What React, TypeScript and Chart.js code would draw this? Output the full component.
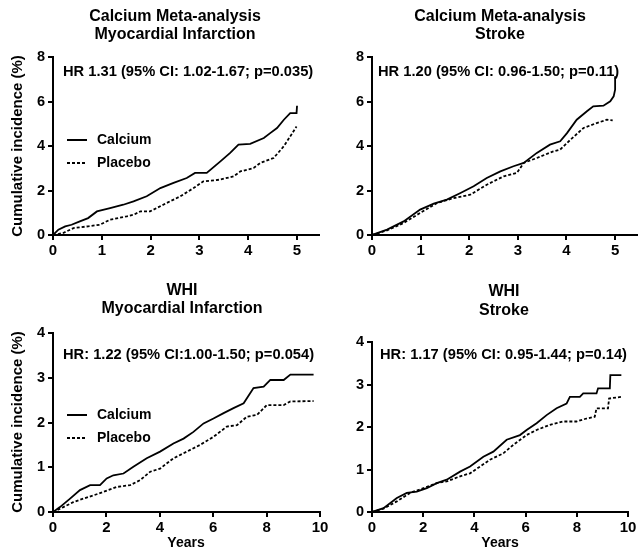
import React, { useEffect, useRef } from 'react';
import { Chart, registerables } from 'chart.js';

Chart.register(...registerables);

// ---------- data ----------
const metaYearTicks = [0, 1, 2, 3, 4, 5];
const whiYearTicks = [0, 2, 4, 6, 8, 10];
const metaIncidenceTicks = [0, 2, 4, 6, 8];
const whiIncidenceTicks = [0, 1, 2, 3, 4];

const metaMiCalcium: [number, number][] = [
  [0, 0], [0.11, 0.24], [0.25, 0.39], [0.38, 0.46], [0.55, 0.61], [0.72, 0.76], [0.9, 1.06], [0.96, 1.1],
  [1.17, 1.21], [1.44, 1.36], [1.65, 1.51], [1.92, 1.74], [2.2, 2.11], [2.47, 2.34], [2.74, 2.56],
  [2.91, 2.79], [3.15, 2.79], [3.43, 3.31], [3.63, 3.69], [3.8, 4.06], [4.04, 4.1], [4.32, 4.36],
  [4.45, 4.58], [4.59, 4.81], [4.73, 5.18], [4.86, 5.48], [4.99, 5.48], [5.0, 5.81],
];
const metaMiPlacebo: [number, number][] = [
  [0, 0], [0.21, 0.09], [0.42, 0.31], [0.72, 0.39], [0.96, 0.46], [1.17, 0.69], [1.51, 0.84], [1.65, 0.91],
  [1.79, 1.06], [1.99, 1.06], [2.33, 1.44], [2.61, 1.74], [2.88, 2.11], [3.08, 2.41], [3.43, 2.49],
  [3.7, 2.64], [3.84, 2.86], [4.11, 3.01], [4.25, 3.24], [4.52, 3.46], [4.73, 3.99], [4.86, 4.43], [4.99, 4.88],
];
const metaStrokeCalcium: [number, number][] = [
  [0, 0], [0.31, 0.24], [0.65, 0.61], [0.99, 1.14], [1.27, 1.41], [1.54, 1.59], [1.82, 1.89], [2.09, 2.19],
  [2.36, 2.56], [2.64, 2.86], [2.91, 3.09], [3.12, 3.24], [3.39, 3.69], [3.66, 4.06], [3.87, 4.21],
  [4.01, 4.58], [4.21, 5.18], [4.42, 5.56], [4.55, 5.78], [4.76, 5.81], [4.9, 6.01], [4.97, 6.23],
  [5.0, 6.53], [5.0, 7.13],
];
const metaStrokePlacebo: [number, number][] = [
  [0, 0], [0.31, 0.21], [0.65, 0.54], [0.99, 0.99], [1.34, 1.44], [1.68, 1.66], [2.02, 1.81], [2.36, 2.26],
  [2.71, 2.64], [2.98, 2.79], [3.12, 3.24], [3.39, 3.46], [3.73, 3.76], [3.87, 3.84], [4.08, 4.28],
  [4.35, 4.81], [4.62, 5.03], [4.83, 5.18], [4.95, 5.15],
];
const whiMiCalcium: [number, number][] = [
  [0, 0], [0.26, 0.11], [0.64, 0.3], [1.01, 0.49], [1.39, 0.6], [1.76, 0.6], [2.01, 0.75], [2.26, 0.82],
  [2.64, 0.86], [3.01, 1.01], [3.51, 1.2], [4.01, 1.35], [4.51, 1.53], [4.89, 1.64], [5.26, 1.79],
  [5.64, 1.98], [6.01, 2.09], [6.39, 2.21], [6.76, 2.32], [7.14, 2.43], [7.51, 2.77], [7.89, 2.8],
  [8.14, 2.95], [8.64, 2.95], [8.89, 3.07], [9.76, 3.07],
];
const whiMiPlacebo: [number, number][] = [
  [0, 0], [0.39, 0.11], [0.76, 0.22], [1.14, 0.3], [1.51, 0.37], [1.89, 0.45], [2.39, 0.56], [2.89, 0.6],
  [3.26, 0.71], [3.64, 0.9], [4.01, 0.97], [4.51, 1.2], [5.01, 1.35], [5.51, 1.5], [6.01, 1.68],
  [6.51, 1.91], [6.89, 1.94], [7.26, 2.13], [7.64, 2.17], [8.01, 2.39], [8.64, 2.39], [8.89, 2.47], [9.76, 2.48],
];
const whiStrokeCalcium: [number, number][] = [
  [0, 0], [0.45, 0.09], [0.97, 0.33], [1.36, 0.45], [1.75, 0.48], [2.14, 0.56], [2.53, 0.68], [2.92, 0.76],
  [3.44, 0.95], [3.83, 1.07], [4.35, 1.3], [4.74, 1.42], [5.26, 1.7], [5.78, 1.81], [6.04, 1.93],
  [6.43, 2.09], [6.82, 2.28], [7.21, 2.44], [7.6, 2.55], [7.73, 2.71], [8.12, 2.71], [8.25, 2.79],
  [8.77, 2.79], [8.83, 2.91], [9.29, 2.91], [9.31, 3.22], [9.74, 3.22],
];
const whiStrokePlacebo: [number, number][] = [
  [0, 0], [0.45, 0.08], [0.97, 0.25], [1.49, 0.45], [2.01, 0.56], [2.53, 0.68], [2.92, 0.72], [3.44, 0.84],
  [3.83, 0.91], [4.22, 1.07], [4.61, 1.23], [5.13, 1.38], [5.52, 1.58], [6.04, 1.81], [6.43, 1.93],
  [6.95, 2.05], [7.47, 2.13], [7.99, 2.13], [8.38, 2.2], [8.7, 2.24], [8.77, 2.44], [9.22, 2.44],
  [9.26, 2.67], [9.74, 2.71],
];

const seriesNames = ['Calcium', 'Placebo'];

// ---------- layout ----------
const W = 639;
const H = 551;
const FONT = "'Liberation Sans', Arial, Helvetica, sans-serif";
const Y_AXIS_W = 30;
const X_AXIS_H = 30;

type Panel = {
  titles: string[];
  titleX: number;
  titleY: number[];
  area: { l: number; r: number; t: number; b: number };
  xMax: number;
  xTicks: number[];
  yMax: number;
  yTicks: number[];
  calcium: [number, number][];
  placebo: [number, number][];
  hr: string;
  hrPos: [number, number];
  legend?: [number, number];
  yTitle?: [number, number];
  xTitle?: [number, number];
};

const panels: Panel[] = [
  {
    titles: ['Calcium Meta-analysis', 'Myocardial Infarction'], titleX: 175, titleY: [17, 35],
    area: { l: 53, r: 319, t: 57, b: 235 }, xMax: 5.45, xTicks: metaYearTicks, yMax: 8, yTicks: metaIncidenceTicks,
    calcium: metaMiCalcium, placebo: metaMiPlacebo,
    hr: 'HR 1.31 (95% CI: 1.02-1.67; p=0.035)', hrPos: [63, 72],
    legend: [67, 140], yTitle: [18, 146],
  },
  {
    titles: ['Calcium Meta-analysis', 'Stroke'], titleX: 500, titleY: [17, 35],
    area: { l: 372, r: 637, t: 57, b: 235 }, xMax: 5.45, xTicks: metaYearTicks, yMax: 8, yTicks: metaIncidenceTicks,
    calcium: metaStrokeCalcium, placebo: metaStrokePlacebo,
    hr: 'HR 1.20 (95% CI: 0.96-1.50; p=0.11)', hrPos: [378, 72],
  },
  {
    titles: ['WHI', 'Myocardial Infarction'], titleX: 182, titleY: [291, 309],
    area: { l: 53, r: 320, t: 333, b: 512 }, xMax: 10, xTicks: whiYearTicks, yMax: 4, yTicks: whiIncidenceTicks,
    calcium: whiMiCalcium, placebo: whiMiPlacebo,
    hr: 'HR: 1.22 (95% CI:1.00-1.50; p=0.054)', hrPos: [63, 355],
    legend: [67, 415], yTitle: [18, 422], xTitle: [186, 543],
  },
  {
    titles: ['WHI', 'Stroke'], titleX: 504, titleY: [292, 311],
    area: { l: 372, r: 628, t: 342, b: 512 }, xMax: 10, xTicks: whiYearTicks, yMax: 4, yTicks: whiIncidenceTicks,
    calcium: whiStrokeCalcium, placebo: whiStrokePlacebo,
    hr: 'HR: 1.17 (95% CI: 0.95-1.44; p=0.14)', hrPos: [380, 355],
    xTitle: [500, 543],
  },
];

const DASH = [3, 2];

function makeTextPlugin(p: Panel) {
  return {
    id: 'panelText',
    afterDraw(chart: any) {
      const ctx = chart.ctx as CanvasRenderingContext2D;
      ctx.save();
      ctx.fillStyle = '#000';
      ctx.strokeStyle = '#000';
      ctx.textBaseline = 'middle';
      // titles
      ctx.font = `bold 16px ${FONT}`;
      ctx.textAlign = 'center';
      p.titles.forEach((t, i) => ctx.fillText(t, p.titleX, p.titleY[i]));
      // HR annotation
      ctx.font = `bold 14.7px ${FONT}`;
      ctx.textAlign = 'left';
      ctx.fillText(p.hr, p.hrPos[0], p.hrPos[1]);
      // legend
      if (p.legend) {
        const [lx, ly] = p.legend;
        ctx.lineWidth = 2;
        ctx.beginPath();
        ctx.moveTo(lx, ly);
        ctx.lineTo(lx + 20, ly);
        ctx.stroke();
        ctx.setLineDash(DASH);
        ctx.beginPath();
        ctx.moveTo(lx, ly + 23);
        ctx.lineTo(lx + 20, ly + 23);
        ctx.stroke();
        ctx.setLineDash([]);
        ctx.font = `bold 14px ${FONT}`;
        ctx.fillText(seriesNames[0], lx + 30, ly);
        ctx.fillText(seriesNames[1], lx + 30, ly + 23);
      }
      // axis titles
      if (p.yTitle) {
        ctx.save();
        ctx.translate(p.yTitle[0], p.yTitle[1]);
        ctx.rotate(-Math.PI / 2);
        ctx.font = `bold 15px ${FONT}`;
        ctx.textAlign = 'center';
        ctx.fillText('Cumulative incidence (%)', 0, 0);
        ctx.restore();
      }
      if (p.xTitle) {
        ctx.font = `bold 14px ${FONT}`;
        ctx.textAlign = 'center';
        ctx.fillText('Years', p.xTitle[0], p.xTitle[1]);
      }
      ctx.restore();
    },
  };
}

function PanelChart({ p }: { p: Panel }) {
  const ref = useRef<HTMLCanvasElement>(null);
  useEffect(() => {
    if (!ref.current) return;
    const axisCommon = {
      border: { display: true, color: '#000', width: 2 },
      grid: { display: true, drawOnChartArea: false, drawTicks: true, tickLength: 5, color: '#000', lineWidth: 2 },
    };
    const chart = new Chart(ref.current, {
      type: 'line',
      data: {
        datasets: [
          {
            label: seriesNames[0],
            data: p.calcium.map(([x, y]) => ({ x, y })),
            borderColor: '#000',
            borderWidth: 1.8,
            pointRadius: 0,
            tension: 0,
            fill: false,
          },
          {
            label: seriesNames[1],
            data: p.placebo.map(([x, y]) => ({ x, y })),
            borderColor: '#000',
            borderWidth: 1.8,
            borderDash: DASH,
            pointRadius: 0,
            tension: 0,
            fill: false,
          },
        ],
      },
      options: {
        responsive: false,
        animation: false,
        devicePixelRatio: 1,
        layout: {
          padding: {
            left: p.area.l - Y_AXIS_W,
            right: W - p.area.r,
            top: p.area.t,
            bottom: H - p.area.b - X_AXIS_H,
          },
        },
        plugins: { legend: { display: false }, tooltip: { enabled: false }, title: { display: false } },
        scales: {
          x: {
            type: 'linear',
            min: 0,
            max: p.xMax,
            ...axisCommon,
            ticks: { color: '#000', padding: 2, font: { family: FONT, size: 15, weight: 'bold' }, maxRotation: 0 },
            afterBuildTicks: (s: any) => { s.ticks = p.xTicks.map((v) => ({ value: v })); },
            afterFit: (s: any) => { s.height = X_AXIS_H; },
          },
          y: {
            type: 'linear',
            min: 0,
            max: p.yMax,
            ...axisCommon,
            ticks: { color: '#000', padding: 3, font: { family: FONT, size: 14.5, weight: 'bold' } },
            afterBuildTicks: (s: any) => { s.ticks = p.yTicks.map((v) => ({ value: v })); },
            afterFit: (s: any) => { s.width = Y_AXIS_W; },
          },
        },
      } as any,
      plugins: [makeTextPlugin(p)],
    });
    return () => chart.destroy();
  }, [p]);
  return (
    <canvas
      ref={ref}
      width={W}
      height={H}
      style={{ position: 'absolute', left: 0, top: 0, width: W, height: H }}
    />
  );
}

export default function App() {
  return (
    <div style={{ position: 'absolute', left: 0, top: 0, width: W, height: H, background: '#fff' }}>
      {panels.map((p, i) => (
        <PanelChart key={i} p={p} />
      ))}
    </div>
  );
}
